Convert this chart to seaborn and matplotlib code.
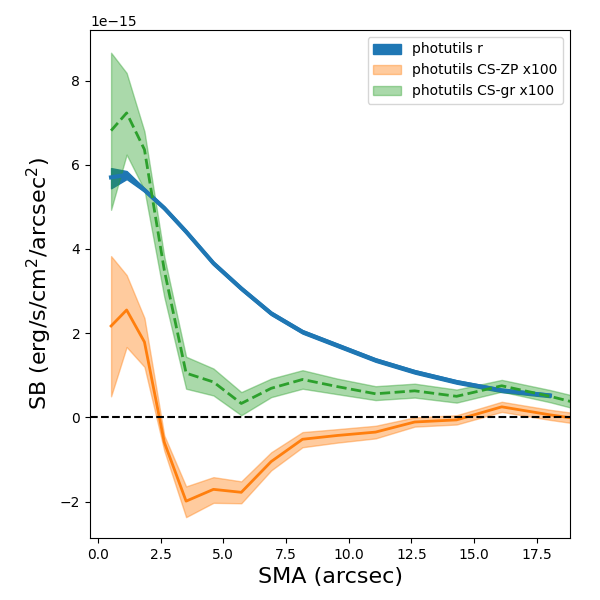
import numpy as np
import pandas as pd
import matplotlib
matplotlib.use('Agg')
import matplotlib.pyplot as plt
import seaborn as sns

# semi-major axis (arcsec) of the isophotes
sma = [0.53, 1.15, 1.86, 2.65, 3.52, 4.61, 5.72, 6.91, 8.16, 9.55, 11.07, 12.63, 14.3, 16.1, 18.02, 19.9]

# photutils r profile (units of 1e-15), ends one isophote earlier
sb_r = [5.70, 5.76, 5.40, 4.97, 4.41, 3.66, 3.06, 2.47, 2.03, 1.71, 1.36, 1.08, 0.84, 0.64, 0.52]
sb_r_lo = [5.44, 5.66, 5.36, 4.93, 4.37, 3.62, 3.02, 2.43, 1.99, 1.67, 1.32, 1.04, 0.80, 0.60, 0.48]
sb_r_hi = [5.92, 5.85, 5.44, 5.01, 4.45, 3.70, 3.10, 2.51, 2.07, 1.75, 1.40, 1.12, 0.88, 0.68, 0.56]

# CS-ZP x100
sb_zp = [2.17, 2.55, 1.79, -0.59, -1.99, -1.71, -1.78, -1.05, -0.52, -0.43, -0.35, -0.11, -0.06, 0.25, 0.06, -0.10]
sb_zp_lo = [0.50, 1.67, 1.20, -0.79, -2.37, -2.03, -2.04, -1.26, -0.71, -0.60, -0.50, -0.22, -0.17, 0.13, -0.06, -0.22]
sb_zp_hi = [3.83, 3.38, 2.36, -0.43, -1.64, -1.42, -1.52, -0.83, -0.35, -0.28, -0.20, 0.00, 0.05, 0.37, 0.18, 0.03]

# CS-gr x100
sb_gr = [6.81, 7.23, 6.36, 3.50, 1.05, 0.84, 0.33, 0.69, 0.90, 0.73, 0.56, 0.63, 0.50, 0.75, 0.50, 0.22]
sb_gr_lo = [4.93, 6.24, 5.40, 2.86, 0.68, 0.52, 0.05, 0.48, 0.68, 0.55, 0.41, 0.47, 0.35, 0.61, 0.36, 0.07]
sb_gr_hi = [8.66, 8.18, 6.79, 3.82, 1.44, 1.16, 0.60, 0.92, 1.12, 0.92, 0.74, 0.80, 0.66, 0.89, 0.65, 0.38]

scale = 1e-15
x = np.array(sma)
x_r = x[:len(sb_r)]

df_r = pd.DataFrame({'sma': x_r, 'sb': np.array(sb_r) * scale})
df_zp = pd.DataFrame({'sma': x, 'sb': np.array(sb_zp) * scale})
df_gr = pd.DataFrame({'sma': x, 'sb': np.array(sb_gr) * scale})

fig, ax = plt.subplots(figsize=(6, 6), dpi=100)
fig.subplots_adjust(left=0.15, right=0.95, bottom=0.103, top=0.95)

# r band
ax.fill_between(x_r, np.array(sb_r_lo) * scale, np.array(sb_r_hi) * scale,
                color='tab:blue', alpha=1, label='photutils r')
sns.lineplot(data=df_r, x='sma', y='sb', color='tab:blue', lw=3, ax=ax, legend=False)

# colour-corrected profiles
ax.fill_between(x, np.array(sb_zp_lo) * scale, np.array(sb_zp_hi) * scale,
                color='tab:orange', alpha=0.4, label='photutils CS-ZP x100')
sns.lineplot(data=df_zp, x='sma', y='sb', color='tab:orange', lw=2, ax=ax, legend=False)

ax.fill_between(x, np.array(sb_gr_lo) * scale, np.array(sb_gr_hi) * scale,
                color='tab:green', alpha=0.4, label='photutils CS-gr x100')
sns.lineplot(data=df_gr, x='sma', y='sb', color='tab:green', lw=2, ls='--', ax=ax, legend=False)

ax.axhline(0, color='k', ls='--', lw=1.5)

ax.set_xlim(-0.31, 18.82)
ax.set_ylim(-2.87e-15, 9.2e-15)
ax.set_xlabel('SMA (arcsec)', fontsize=16)
ax.set_ylabel(r'SB (erg/s/cm$^2$/arcsec$^2$)', fontsize=16)
ax.legend(loc='upper right')

plt.savefig('out.png', dpi=100)
